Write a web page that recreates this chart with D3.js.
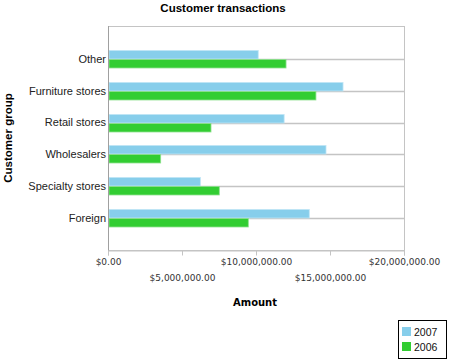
<!DOCTYPE html>
<html>
<head>
<meta charset="utf-8">
<script src="https://cdn.jsdelivr.net/npm/d3@7"></script>
<style>
  body { margin: 0; background: #fff; }
  svg { display: block; }
</style>
</head>
<body>
<script>
// values (dollars)
const groups = ["Other", "Furniture stores", "Retail stores", "Wholesalers", "Specialty stores", "Foreign"];
const sales2007 = [10150000, 15880000, 11900000, 14730000, 6240000, 13600000];
const sales2006 = [12030000, 14050000, 6960000, 3560000, 7520000, 9480000];
const years = ["2007", "2006"];
const colors = ["#87ceeb", "#32cd32"];
const xTicks = [0, 5000000, 10000000, 15000000, 20000000];

const width = 449, height = 363;
const plot = { left: 108, right: 404, top: 26, bottom: 250 };

const svg = d3.select("body").append("svg")
    .attr("width", width)
    .attr("height", height);

const x = d3.scaleLinear()
    .domain([0, 20000000])
    .range([plot.left, plot.right]);

const y = d3.scalePoint()
    .domain(groups)
    .range([plot.top + 1, plot.bottom])
    .padding(1);

const barH = 8.5;

// frame
svg.append("rect")
    .attr("x", plot.left + 0.5)
    .attr("y", plot.top + 0.5)
    .attr("width", plot.right - plot.left)
    .attr("height", plot.bottom - plot.top)
    .attr("fill", "none")
    .attr("stroke", "#c4c4c4");

// grid lines at each group
svg.append("g")
    .selectAll("line")
    .data(groups)
    .join("line")
    .attr("x1", plot.left)
    .attr("x2", plot.right)
    .attr("y1", d => Math.round(y(d)) + 0.5)
    .attr("y2", d => Math.round(y(d)) + 0.5)
    .attr("stroke", "#c4c4c4")
    .attr("stroke-width", 1.5);

// bars
const series = [sales2007, sales2006];
series.forEach((vals, s) => {
    svg.append("g")
        .selectAll("rect")
        .data(groups)
        .join("rect")
        .attr("x", plot.left + 1)
        .attr("y", (d, i) => Math.round(y(d)) + (s == 0 ? -barH : 0.5))
        .attr("width", (d, i) => x(vals[i]) - plot.left - 1)
        .attr("height", barH)
        .attr("fill", colors[s])
        .attr("stroke", s == 0 ? "#bfe5f5" : "#8ee08e")
        .attr("stroke-width", 0.8);
});

// left axis line
svg.append("line")
    .attr("x1", plot.left + 0.5).attr("x2", plot.left + 0.5)
    .attr("y1", plot.top).attr("y2", plot.bottom + 5)
    .attr("stroke", "#a0a0a0");

// category labels
svg.append("g")
    .selectAll("text")
    .data(groups)
    .join("text")
    .attr("x", plot.left - 2)
    .attr("y", d => y(d))
    .attr("dy", "0.35em")
    .attr("text-anchor", "end")
    .attr("font-family", "Liberation Sans, Arial, sans-serif")
    .attr("font-size", 11)
    .attr("fill", "#222")
    .text(d => d);

// x axis with staggered labels
const fmt = d3.format("$,.2f");
const xAxis = svg.append("g")
    .attr("transform", `translate(0,${plot.bottom + 0.5})`)
    .call(d3.axisBottom(x).tickValues(xTicks).tickSize(5).tickFormat(fmt));
xAxis.select(".domain").attr("stroke", "#c4c4c4");
xAxis.selectAll(".tick line").attr("stroke", "#c4c4c4");
xAxis.selectAll(".tick text")
    .attr("font-family", "DejaVu Sans, Verdana, sans-serif")
    .attr("font-size", 9)
    .attr("fill", "#333")
    .attr("y", (d, i) => i % 2 == 0 ? 8 : 24);

// titles
svg.append("text")
    .attr("x", 223)
    .attr("y", 12)
    .attr("text-anchor", "middle")
    .attr("font-family", "Liberation Sans, Arial, sans-serif")
    .attr("font-weight", "bold")
    .attr("font-size", 11.5)
    .text("Customer transactions");

svg.append("text")
    .attr("x", 255)
    .attr("y", 306)
    .attr("text-anchor", "middle")
    .attr("font-family", "DejaVu Sans, Verdana, sans-serif")
    .attr("font-weight", "bold")
    .attr("font-size", 10)
    .text("Amount");

svg.append("text")
    .attr("transform", `translate(12,${(plot.top + plot.bottom) / 2}) rotate(-90)`)
    .attr("text-anchor", "middle")
    .attr("font-family", "Liberation Sans, Arial, sans-serif")
    .attr("font-weight", "bold")
    .attr("font-size", 11.5)
    .text("Customer group");

// legend
const legend = svg.append("g").attr("transform", "translate(398,320)");
legend.append("rect")
    .attr("x", 0.5).attr("y", 0.5)
    .attr("width", 48).attr("height", 38)
    .attr("fill", "#fff")
    .attr("stroke", "#000");
years.forEach((yr, i) => {
    legend.append("rect")
        .attr("x", 4).attr("y", 7 + i * 15)
        .attr("width", 9).attr("height", 9)
        .attr("fill", colors[i]);
    legend.append("text")
        .attr("x", 16).attr("y", 15.5 + i * 15)
        .attr("font-family", "Liberation Sans, Arial, sans-serif")
        .attr("font-size", 10.5)
        .attr("fill", "#111")
        .text(yr);
});
</script>
</body>
</html>
